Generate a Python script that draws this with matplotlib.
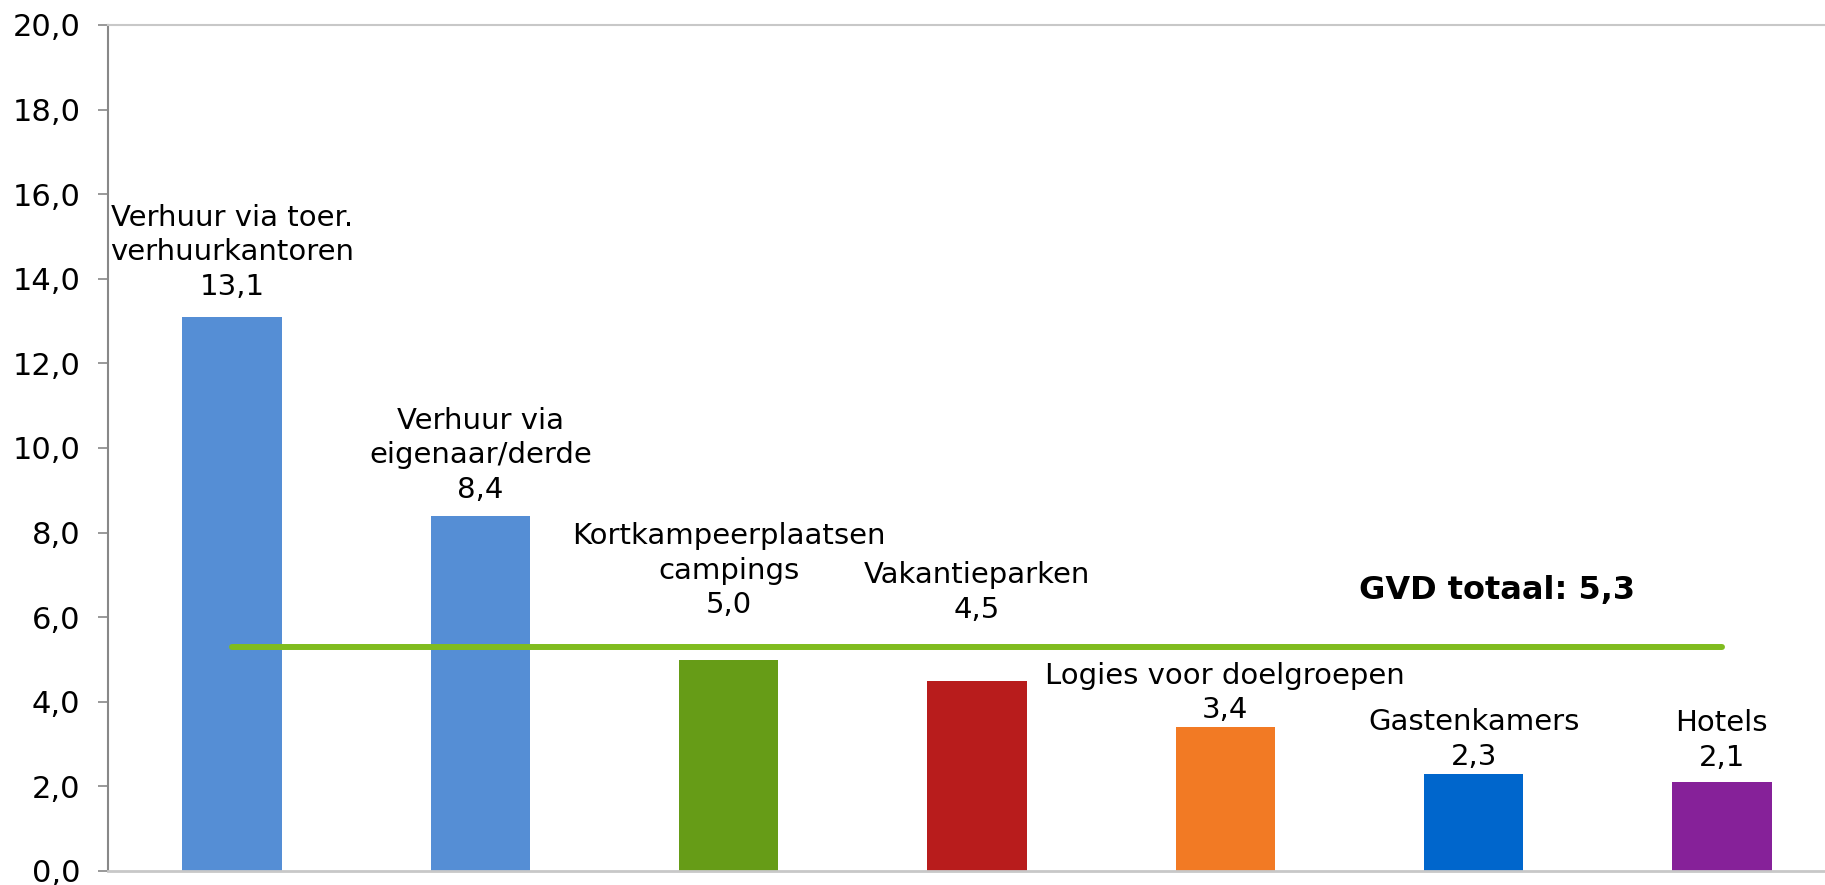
import matplotlib.pyplot as plt
import numpy as np

# gemiddelde verblijfsduur per logiesvorm
categories = ['Verhuur via toer.\nverhuurkantoren',
              'Verhuur via\neigenaar/derde',
              'Kortkampeerplaatsen\ncampings',
              'Vakantieparken',
              'Logies voor doelgroepen',
              'Gastenkamers',
              'Hotels']
values = [13.1, 8.4, 5.0, 4.5, 3.4, 2.3, 2.1]
total = 5.3
total_label = 'GVD totaal: 5,3'

colors = ['#558ED5', '#558ED5', '#669C17', '#B81C1C', '#F27A24', '#0066CC', '#862199']
# afstand label-bar (bar 3 en 4 staan boven de totaallijn)
gap = [0.38, 0.28, 0.95, 1.35, 0.07, 0.07, 0.24]

def fmt(v):
    return f'{v:.1f}'.replace('.', ',')

plt.rcParams['font.family'] = ['DejaVu Sans']

fig = plt.figure(figsize=(18.25, 8.85), dpi=100)
ax = fig.add_axes([108/1825, 1 - 871/885, 1738/1825, 846/885])

x = np.arange(len(values))
ax.bar(x, values, width=0.4, color=colors, zorder=2)
ax.plot([x[0], x[-1]], [total, total], color='#80BC1F', lw=4.3,
        solid_capstyle='round', zorder=3)

for i, v in enumerate(values):
    ax.text(i, v + gap[i], categories[i] + '\n' + fmt(v),
            ha='center', va='bottom', multialignment='center',
            fontsize=21, linespacing=1.3, zorder=4)

ax.text(4.54, 6.63, total_label, ha='left', va='center',
        fontsize=23, fontweight='bold')

ax.set_xlim(-0.5, 6.5)
ax.set_ylim(0, 20)
ax.set_yticks(np.arange(0, 21, 2))
ax.set_yticklabels([fmt(t) for t in np.arange(0, 21, 2)])
ax.set_xticks([])
ax.tick_params(axis='y', length=7, width=1.2, color='#888888', pad=13,
               labelsize=22)

ax.spines['right'].set_visible(False)
ax.spines['left'].set_color('#888888')
ax.spines['left'].set_linewidth(1.5)
ax.spines['top'].set_color('#C8C8C8')
ax.spines['top'].set_linewidth(1.5)
ax.spines['bottom'].set_color('#C8C8C8')
ax.spines['bottom'].set_linewidth(2)

fig.savefig('out.png', dpi=100)
